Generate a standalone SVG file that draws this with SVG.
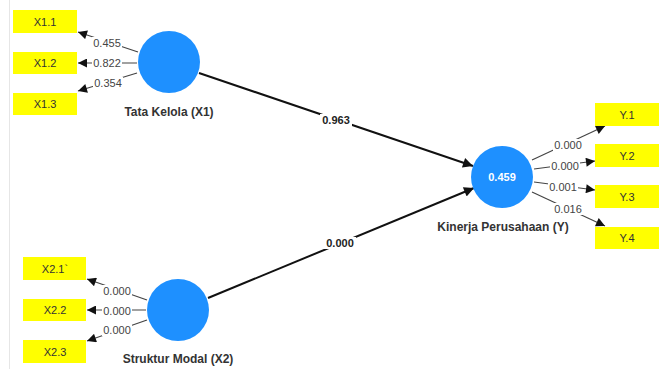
<svg xmlns="http://www.w3.org/2000/svg" width="663" height="369" viewBox="0 0 663 369">
<style>
text{font-family:"Liberation Sans",Arial,sans-serif;}
.box{fill:#ffff00;}
.bt{font-size:11px;fill:#333;text-anchor:middle;}
.lv{fill:#1e90ff;}
.nm{font-size:12px;font-weight:bold;fill:#333;text-anchor:middle;}
.ld{stroke:#444;stroke-width:1.2;fill:none;marker-end:url(#ah);}
.pt{stroke:#111;stroke-width:2;fill:none;marker-end:url(#ah2);}
.lb{font-size:11px;fill:#444;text-anchor:middle;}
.pb{font-size:11px;font-weight:bold;fill:#222;text-anchor:middle;}
.bg{fill:#fff;}
</style>
<defs>
<marker id="ah" viewBox="0 0 10 10" refX="10" refY="5" markerWidth="11" markerHeight="9" markerUnits="userSpaceOnUse" orient="auto"><path d="M0,0L10,5L0,10z" fill="#111"/></marker>
<marker id="ah2" viewBox="0 0 10 10" refX="10" refY="5" markerWidth="13" markerHeight="10" markerUnits="userSpaceOnUse" orient="auto"><path d="M0,0L10,5L0,10z" fill="#111"/></marker>
</defs>
<rect width="663" height="369" fill="#fff"/>
<line x1="9.5" y1="0" x2="9.5" y2="369" stroke="#e6e6e6" stroke-width="1"/>
<g id="connectors">
<line class="ld" x1="138" y1="52" x2="78" y2="32"/>
<line class="ld" x1="137" y1="63" x2="78" y2="63"/>
<line class="ld" x1="137" y1="73" x2="78" y2="91"/>
<line class="ld" x1="147" y1="300" x2="87" y2="279"/>
<line class="ld" x1="146" y1="310" x2="87" y2="310"/>
<line class="ld" x1="147" y1="320" x2="87" y2="341"/>
<line class="ld" x1="532" y1="160" x2="605" y2="126"/>
<line class="ld" x1="534" y1="169" x2="595" y2="161"/>
<line class="ld" x1="534" y1="182" x2="595" y2="190"/>
<line class="ld" x1="532" y1="192" x2="605" y2="226"/>
<line class="pt" x1="199" y1="73" x2="473" y2="166"/>
<line class="pt" x1="208" y1="298" x2="474" y2="188"/>
<rect class="bg" x="92" y="37" width="30" height="12"/><text class="lb" x="107" y="47">0.455</text>
<rect class="bg" x="92" y="57" width="30" height="12"/><text class="lb" x="107" y="67">0.822</text>
<rect class="bg" x="93" y="77" width="30" height="12"/><text class="lb" x="108" y="87">0.354</text>
<rect class="bg" x="102" y="285" width="30" height="12"/><text class="lb" x="117" y="295">0.000</text>
<rect class="bg" x="102" y="305" width="30" height="12"/><text class="lb" x="117" y="315">0.000</text>
<rect class="bg" x="102" y="324" width="30" height="12"/><text class="lb" x="117" y="334">0.000</text>
<rect class="bg" x="553" y="139" width="30" height="12"/><text class="lb" x="568" y="149">0.000</text>
<rect class="bg" x="550" y="160" width="30" height="12"/><text class="lb" x="565" y="170">0.000</text>
<rect class="bg" x="548" y="181" width="30" height="12"/><text class="lb" x="563" y="191">0.001</text>
<rect class="bg" x="553" y="203" width="30" height="12"/><text class="lb" x="568" y="213">0.016</text>
<rect class="bg" x="320" y="114" width="32" height="12"/><text class="pb" x="336" y="124">0.963</text>
<rect class="bg" x="324" y="237" width="32" height="12"/><text class="pb" x="340" y="247">0.000</text>
</g>
<g id="X1.1"><rect class="box" x="13" y="10" width="64" height="23"/><text class="bt" x="45" y="25.5">X1.1</text></g>
<g id="X1.2"><rect class="box" x="13" y="52" width="64" height="22"/><text class="bt" x="45" y="67">X1.2</text></g>
<g id="X1.3"><rect class="box" x="13" y="93" width="64" height="22"/><text class="bt" x="45" y="108">X1.3</text></g>
<g id="X2.1"><rect class="box" x="23" y="257" width="63" height="23"/><text class="bt" x="55" y="272.5">X2.1`</text></g>
<g id="X2.2"><rect class="box" x="23" y="299" width="63" height="22"/><text class="bt" x="55" y="314">X2.2</text></g>
<g id="X2.3"><rect class="box" x="23" y="340" width="63" height="23"/><text class="bt" x="55" y="355.5">X2.3</text></g>
<g id="Y.1"><rect class="box" x="595" y="103" width="64" height="23"/><text class="bt" x="627" y="118.5">Y.1</text></g>
<g id="Y.2"><rect class="box" x="595" y="144" width="64" height="23"/><text class="bt" x="627" y="159.5">Y.2</text></g>
<g id="Y.3"><rect class="box" x="595" y="185" width="64" height="23"/><text class="bt" x="627" y="200.5">Y.3</text></g>
<g id="Y.4"><rect class="box" x="595" y="227" width="64" height="22"/><text class="bt" x="627" y="242">Y.4</text></g>
<g id="X1"><circle class="lv" cx="169" cy="62" r="31"/><text class="nm" x="169" y="116">Tata Kelola (X1)</text></g>
<g id="X2"><circle class="lv" cx="178" cy="310" r="31"/><text class="nm" x="178" y="363">Struktur Modal (X2)</text></g>
<g id="Y"><circle class="lv" cx="502" cy="177" r="31"/><text x="502" y="181" font-size="11" font-weight="bold" fill="#fff" text-anchor="middle">0.459</text><text class="nm" x="503" y="231">Kinerja Perusahaan (Y)</text></g>
</svg>
